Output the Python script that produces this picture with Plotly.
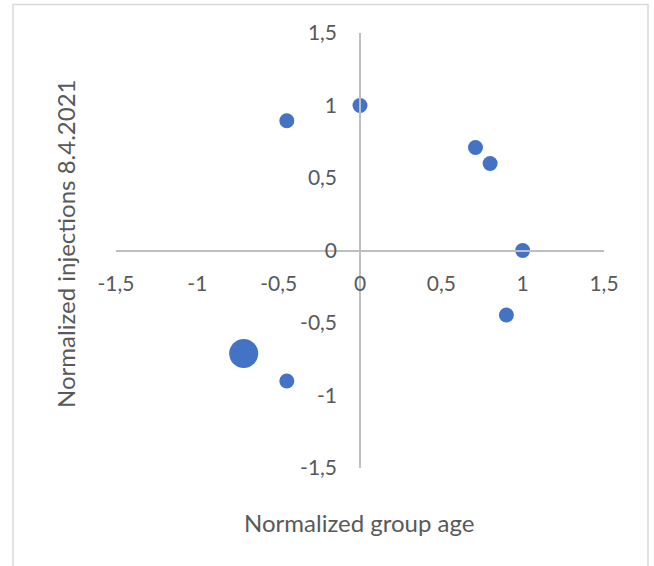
import plotly.graph_objects as go

# Data
age_norm = [-0.45, 0.0, 0.71, 0.80, 1.0, 0.90, -0.715, -0.45]
injections_norm = [0.895, 1.0, 0.71, 0.60, 0.0, -0.445, -0.71, -0.90]
marker_sizes = [15, 15, 15, 15, 15, 15, 29, 15]

tick_vals = [-1.5, -1, -0.5, 0, 0.5, 1, 1.5]
tick_text = ["-1,5", "-1", "-0,5", "0", "0,5", "1", "1,5"]

x_title = "Normalized group age"
y_title = "Normalized injections 8.4.2021"

FONT = "Lato"
GRAY = "#595959"
AXIS = "#BFBFBF"

fig = go.Figure()
fig.add_trace(go.Scatter(
    x=age_norm, y=injections_norm, mode="markers",
    marker=dict(size=marker_sizes, color="#4472C4", line=dict(width=0), opacity=1),
    showlegend=False, hoverinfo="x+y",
))

L, R, T, B = 116, 50, 33, 98
W, H = 654, 566
pw, ph = W - L - R, H - T - B

def px_x(px):
    return (px - L) / pw

def px_y(py):
    return (H - B - py) / ph

fig.update_layout(
    width=W, height=H,
    margin=dict(l=L, r=R, t=T, b=B, pad=0),
    paper_bgcolor="white", plot_bgcolor="white",
    font=dict(family=FONT, color=GRAY, size=20),
    xaxis=dict(
        range=[-1.5, 1.5], domain=[0, 1], anchor="free", position=0.5,
        showline=True, linecolor=AXIS, linewidth=1.5,
        showgrid=False, zeroline=False, ticks="",
        tickvals=tick_vals, ticktext=tick_text,
        tickfont=dict(family=FONT, color=GRAY, size=21),
        ticklabelstandoff=15,
    ),
    yaxis=dict(
        range=[-1.5, 1.5], domain=[0, 1], anchor="free", position=0.5,
        showline=True, linecolor=AXIS, linewidth=1.5,
        showgrid=False, zeroline=False, ticks="",
        tickvals=tick_vals, ticktext=tick_text,
        tickfont=dict(family=FONT, color=GRAY, size=21),
        ticklabelstandoff=18,
    ),
    annotations=[
        dict(text=x_title, xref="paper", yref="paper", x=px_x(359), y=px_y(522),
             showarrow=False, xanchor="center", yanchor="middle",
             font=dict(family=FONT, color=GRAY, size=24)),
        dict(text=y_title, xref="paper", yref="paper", x=px_x(65), y=px_y(244),
             showarrow=False, xanchor="center", yanchor="middle", textangle=-90,
             font=dict(family=FONT, color=GRAY, size=24)),
    ],
    shapes=[
        dict(type="rect", xref="paper", yref="paper",
             x0=px_x(13), x1=px_x(648), y0=px_y(600), y1=px_y(4.5),
             line=dict(color="#D9D9D9", width=1.5), fillcolor="rgba(0,0,0,0)",
             layer="below"),
    ],
)

fig.write_html("out.html")
